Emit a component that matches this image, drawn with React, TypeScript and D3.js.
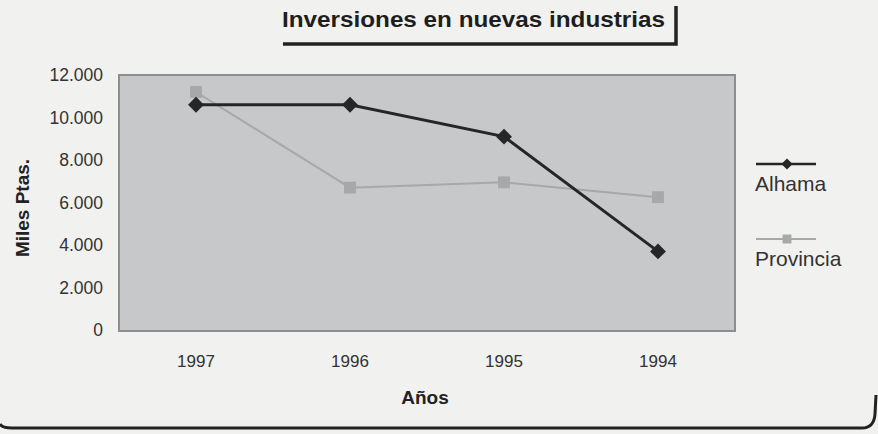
import React from "react";
import * as d3 from "d3";

const years = ["1997", "1996", "1995", "1994"];
const alhama = [10600, 10600, 9100, 3700];
const provincia = [11200, 6700, 6950, 6250];
const yTicks = [0, 2000, 4000, 6000, 8000, 10000, 12000];
const seriesNames = ["Alhama", "Provincia"];

const W = 878, H = 434;
const plot = { left: 119, right: 735, top: 75, bottom: 331 };

export default function App() {
  const x = d3.scaleBand<string>().domain(years).range([plot.left, plot.right]);
  const y = d3.scaleLinear().domain([0, 12000]).range([330, 75]);
  const cx = (d: string) => (x(d) as number) + x.bandwidth() / 2;
  const line = d3.line<number>().x((_, i) => cx(years[i])).y((v) => y(v));
  const fmt = (v: number) => d3.format(",")(v).replace(/,/g, ".");
  const font = "'Liberation Sans', Arial, sans-serif";
  const dark = "#262626";
  const light = "#a6a8aa";
  const diamond = d3.symbol().type(d3.symbolDiamond2).size(160)();
  const square = d3.symbol().type(d3.symbolSquare).size(140)();
  const legendY = [164, 239];

  return (
    <svg width={W} height={H} style={{ position: "absolute", left: 0, top: 0, display: "block" }} fontFamily={font}>
      <rect x={0} y={0} width={W} height={H} fill="#f1f1ef" />
      {/* frame bottom and right */}
      <path d={`M0,424 Q2,428 12,428 L862,428 Q874,428 875,414 L876,395`} fill="none" stroke="#222" strokeWidth={3} />

      {/* title */}
      <text x={282} y={27} textLength={383} lengthAdjust="spacingAndGlyphs" fontSize={21.5} fontWeight="bold" fill="#1e1e1e">
        Inversiones en nuevas industrias
      </text>
      <path d="M283,44 L676,44 L676,6" fill="none" stroke="#222" strokeWidth={3.5} />

      {/* plot area */}
      <rect x={plot.left} y={plot.top} width={plot.right - plot.left} height={plot.bottom - plot.top}
        fill="#c6c8ca" stroke="#8c8e90" strokeWidth={2} />

      {/* y ticks */}
      {yTicks.map((t) => (
        <text key={t} x={103} y={y(t) + 6} textAnchor="end" fontSize={17.5} fill="#333">{fmt(t)}</text>
      ))}
      <text transform={`translate(29,208) rotate(-90)`} textAnchor="middle" fontSize={19} fontWeight="bold" fill="#222">
        Miles Ptas.
      </text>

      {/* x labels */}
      {years.map((yr) => (
        <text key={yr} x={cx(yr)} y={367} textAnchor="middle" fontSize={17} fill="#333">{yr}</text>
      ))}
      <text x={425} y={404} textAnchor="middle" fontSize={19} fontWeight="bold" fill="#222">Años</text>

      {/* series */}
      <path d={line(provincia) as string} fill="none" stroke={light} strokeWidth={2} />
      {provincia.map((v, i) => (
        <path key={"p" + i} d={square as string} transform={`translate(${cx(years[i])},${y(v)})`} fill={light} />
      ))}
      <path d={line(alhama) as string} fill="none" stroke={dark} strokeWidth={3} />
      {alhama.map((v, i) => (
        <path key={"a" + i} d={diamond as string} transform={`translate(${cx(years[i])},${y(v)})`} fill={dark} />
      ))}

      {/* legend */}
      <line x1={756} x2={816} y1={legendY[0]} y2={legendY[0]} stroke={dark} strokeWidth={2.5} />
      <path d={d3.symbol().type(d3.symbolDiamond2).size(80)() as string} transform={`translate(787,${legendY[0]})`} fill={dark} />
      <text x={755} y={legendY[0] + 27} fontSize={21} fill="#333">{seriesNames[0]}</text>
      <line x1={756} x2={816} y1={legendY[1]} y2={legendY[1]} stroke={light} strokeWidth={2} />
      <path d={d3.symbol().type(d3.symbolSquare).size(80)() as string} transform={`translate(787,${legendY[1]})`} fill={light} />
      <text x={755} y={legendY[1] + 27} fontSize={21} fill="#333">{seriesNames[1]}</text>
    </svg>
  );
}
